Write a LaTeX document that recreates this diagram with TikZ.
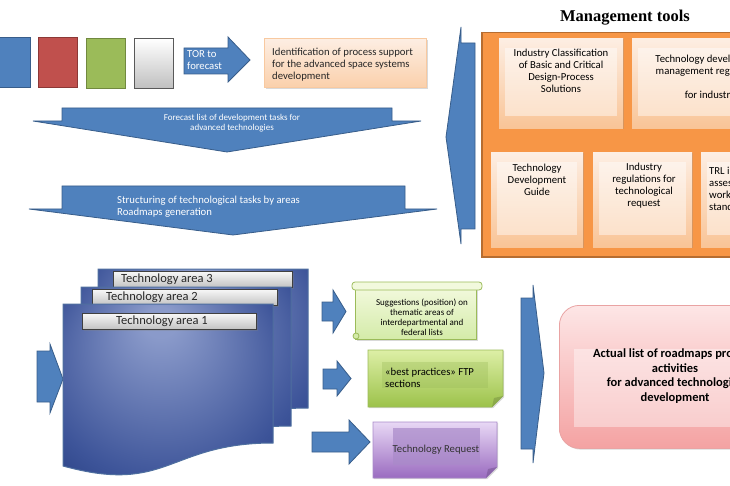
\documentclass[tikz,border=0pt]{standalone}
\usepackage{fontspec}
\setmainfont{Carlito}
\newfontfamily\titlefont{Liberation Serif}
\usepackage{tikz}
\usetikzlibrary{positioning,shadows}
\definecolor{officeblue}{HTML}{4F81BD}
\definecolor{officeblueline}{HTML}{385D8A}
\definecolor{officered}{HTML}{C0504D}
\definecolor{officeredline}{HTML}{8C3836}
\definecolor{officegreen}{HTML}{9BBB59}
\definecolor{officegreenline}{HTML}{71893F}
\definecolor{toolorange}{HTML}{F79646}
\definecolor{toolorangeline}{HTML}{B66D31}
\definecolor{peachtop}{HTML}{FDEEE3}
\definecolor{peachbottom}{HTML}{F9C496}
\definecolor{peachline}{HTML}{F8C9A0}
\definecolor{pagelight}{HTML}{8A9ACA}
\definecolor{pagemid}{HTML}{3D5499}
\definecolor{pagedark}{HTML}{0E2666}
\definecolor{pageline}{HTML}{4F6F9F}
\definecolor{scrolltop}{HTML}{F2F9DD}
\definecolor{scrollbottom}{HTML}{D4EBA8}
\definecolor{notegreentop}{HTML}{DDEFA6}
\definecolor{notegreenbottom}{HTML}{9CC24A}
\definecolor{purpletop}{HTML}{E8D8F5}
\definecolor{purplebottom}{HTML}{9A6BC0}
\definecolor{purpleinner}{HTML}{A98AC9}
\definecolor{pinktop}{HTML}{FDE6E6}
\definecolor{pinkbottom}{HTML}{F4A2A2}
\definecolor{pinkline}{HTML}{E9A3A3}
\pgfdeclareradialshading{pageshade}{\pgfpoint{-2bp}{22bp}}{color(0bp)=(pagelight); color(4bp)=(pagelight); color(30bp)=(pagemid); color(50bp)=(pagedark)}

\begin{document}
\begin{tikzpicture}[x=1pt, y=-1pt,
  txt/.style={font=\fontsize{10.7}{12}\selectfont, inner sep=0pt},
  smalltxt/.style={font=\fontsize{9}{10}\selectfont, inner sep=0pt},
  blockarrow/.style={fill=officeblue, draw=officeblueline, line width=0.8pt},
  colorsq/.style={minimum width=39pt, minimum height=50pt, anchor=north west, line width=1.2pt, inner sep=0pt},
  softshadow/.style={drop shadow={shadow xshift=1.2pt, shadow yshift=-1.2pt, opacity=.3}},
  toolbox/.style={anchor=north west, inner sep=0pt, top color=peachtop, bottom color=peachbottom, softshadow,
    path picture={\fill[white, opacity=.45] ([xshift=6pt, yshift=-10pt]path picture bounding box.north west) rectangle ([xshift=-6pt, yshift=12pt]path picture bounding box.south east);}},
  pagesheet/.style={shade, shading=pageshade, draw=pageline, line width=1pt},
  arealabel/.style={anchor=north west, minimum height=16pt, inner sep=0pt, top color=black!3, bottom color=black!24, draw=black!75, line width=0.8pt, softshadow},
  areatxt/.style={font=\fontsize{12.5}{14}\selectfont, text=black!85, inner sep=0pt},
]
\useasboundingbox (0,0) rectangle (730,486);
\clip (0,0) rectangle (730,486);

% management tools
\node[font=\titlefont\bfseries\fontsize{16.5}{18}\selectfont] (title) at (625,18) {Management tools};
\node[anchor=north west, minimum width=270pt, minimum height=224pt, fill=toolorange, draw=toolorangeline, line width=1.5pt] (tools) at (481,32) {};
\node[toolbox, minimum width=124pt, minimum height=90pt] (classbox) at (499,38) {};
\node[txt, align=center] (classtxt) at (561,71) {Industry Classification\\of Basic and Critical\\Design-Process\\Solutions};
\node[toolbox, minimum width=160pt, minimum height=90pt] (regbox) at (632,38) {};
\node[txt, align=center] (regtxt) at (710,78) {Technology development\\management regulations\\[12pt]for industry};
\node[toolbox, minimum width=92pt, minimum height=95pt] (guidebox) at (491,152) {};
\node[txt, align=center] (guidetxt) at (537,180) {Technology\\Development\\Guide};
\node[toolbox, minimum width=99pt, minimum height=95pt] (reqregbox) at (593,152) {};
\node[txt, align=center] (reqregtxt) at (644,186) {Industry\\regulations for\\technological\\request};
\node[toolbox, minimum width=100pt, minimum height=95pt] (trlbox) at (701,152) {};
\node[txt, align=left, anchor=west] (trltxt) at (709,189) {TRL indicators\\assessment\\working\\standards};

\draw[blockarrow] (461,27) -- (461,43) -- (475,43) -- (475,229) -- (461,229) -- (461,244) -- (446,137) -- cycle;

% top row
\node[colorsq, minimum width=40pt, fill=officeblue, draw=officeblueline] (bluesq) at (-10,37) {};
\node[colorsq, fill=officered, draw=officeredline] (redsq) at (38,37) {};
\node[colorsq, fill=officegreen, draw=officegreenline] (greensq) at (86,38) {};
\node[colorsq, top color=white, bottom color=black!25, draw=black!65] (graysq) at (134,38) {};
\draw[blockarrow] (184,48) -- (228,48) -- (228,37) -- (250,60) -- (228,82) -- (228,74) -- (184,74) -- cycle;
\node[txt, text=white, align=left, anchor=west] (tortxt) at (187,60) {TOR to\\forecast};
\node[anchor=north west, minimum width=162pt, minimum height=49pt, inner sep=0pt, top color=peachtop, bottom color=peachbottom!80!white, draw=peachline, line width=1pt, softshadow] (ident) at (264,38) {};
\node[txt, align=left, anchor=west, text=black!85] (identtxt) at (272,65) {Identification of process support\\for the advanced space systems\\development};

% forecast and structuring
\draw[blockarrow] (62,108) -- (392,108) -- (392,121) -- (421,121) -- (227,152) -- (33,121) -- (62,121) -- cycle;
\node[smalltxt, text=white, align=center] (forecasttxt) at (232,123) {Forecast list of development tasks for\\advanced technologies};
\draw[blockarrow] (62,186) -- (405,186) -- (405,209) -- (437,209) -- (233,235) -- (29,209) -- (62,209) -- cycle;
\node[txt, text=white, align=left, anchor=west] (structtxt) at (117,207) {Structuring of technological tasks by areas\\Roadmaps generation};

% technology areas
\draw[blockarrow] (37,351) -- (50,351) -- (50,344) -- (63,379) -- (50,413) -- (50,402) -- (37,402) -- cycle;
\foreach \px/\py/\lx/\ly/\lw/\tx/\k in {98/269/113/271/179/121/3, 81/287/92/289/185/106/2, 63/304/82/313/174/116/1}{
  \path[pagesheet] (\px,\py) -- (\px+210,\py) -- (\px+210,\py+139) .. controls (\px+105,\py+139) and (\px+105,\py+191) .. (\px,\py+162) -- cycle;
  \node[arealabel, minimum width=\lw pt] (area\k) at (\lx,\ly) {};
  \node[areatxt, anchor=west] (areatxt\k) at (\tx,\ly+8) {Technology area \k};
}

% outputs
\draw[blockarrow] (322,302) -- (333,302) -- (333,290) -- (346,311.5) -- (333,333) -- (333,321) -- (322,321) -- cycle;
\draw[blockarrow] (323,369) -- (337,369) -- (337,361) -- (351,378.5) -- (337,396) -- (337,389) -- (323,389) -- cycle;
\draw[blockarrow] (312,432) -- (349,432) -- (349,420) -- (370,442) -- (349,464) -- (349,452) -- (312,452) -- cycle;

\node[anchor=north west, minimum width=121pt, minimum height=52pt, inner sep=0pt, top color=scrolltop, bottom color=scrollbottom, draw=officegreen, line width=.8pt, softshadow] (scroll) at (355,287) {};
\draw[draw=officegreen, fill=scrolltop, rounded corners=3pt, line width=.8pt] (352,282) rectangle (482,290);
\draw[draw=officegreen, fill=scrollbottom, line width=.8pt] (356,336) circle (3pt);
\node[smalltxt, align=center] (scrolltxt) at (422,317) {Suggestions (position) on\\thematic areas of\\interdepartmental and\\federal lists};

\path[top color=notegreentop, bottom color=notegreenbottom, draw=officegreen, line width=.6pt, softshadow] (368,350) -- (503,350) -- (503,396) -- (492,407) -- (368,407) -- cycle;
\fill[officegreenline, opacity=.45] (492,407) -- (494,398) -- (503,396) -- cycle;
\fill[officegreen, opacity=.35] (382,362) rectangle (488,388);
\node[txt, align=left, anchor=west] (bestpractxt) at (385,378) {«best practices» FTP\\sections};

\path[top color=purpletop, bottom color=purplebottom, draw=purpleinner, line width=.6pt, softshadow] (373,422) -- (497,422) -- (497,467) -- (486,478) -- (373,478) -- cycle;
\fill[purplebottom!70!black, opacity=.45] (486,478) -- (488,469) -- (497,467) -- cycle;
\fill[purpleinner, opacity=.7] (393,428) rectangle (480,465);
\node[txt, text=black!80] (techreqtxt) at (436,450) {Technology Request};

% result
\draw[blockarrow] (521,298) -- (533,298) -- (533,285) -- (544,373) -- (533,463) -- (533,449) -- (521,449) -- cycle;
\node[anchor=north west, minimum width=230pt, minimum height=143pt, rounded corners=20pt, top color=pinktop, bottom color=pinkbottom, draw=pinkline, line width=.8pt, softshadow] (actual) at (559,305) {};
\fill[white, opacity=.4] (574,349) rectangle (760,427);
\node[font=\bfseries\fontsize{12.5}{14.5}\selectfont, align=center, inner sep=0pt] (actualtxt) at (675,376) {Actual list of roadmaps projects\\activities\\for advanced technologies\\development};
\end{tikzpicture}
\end{document}
